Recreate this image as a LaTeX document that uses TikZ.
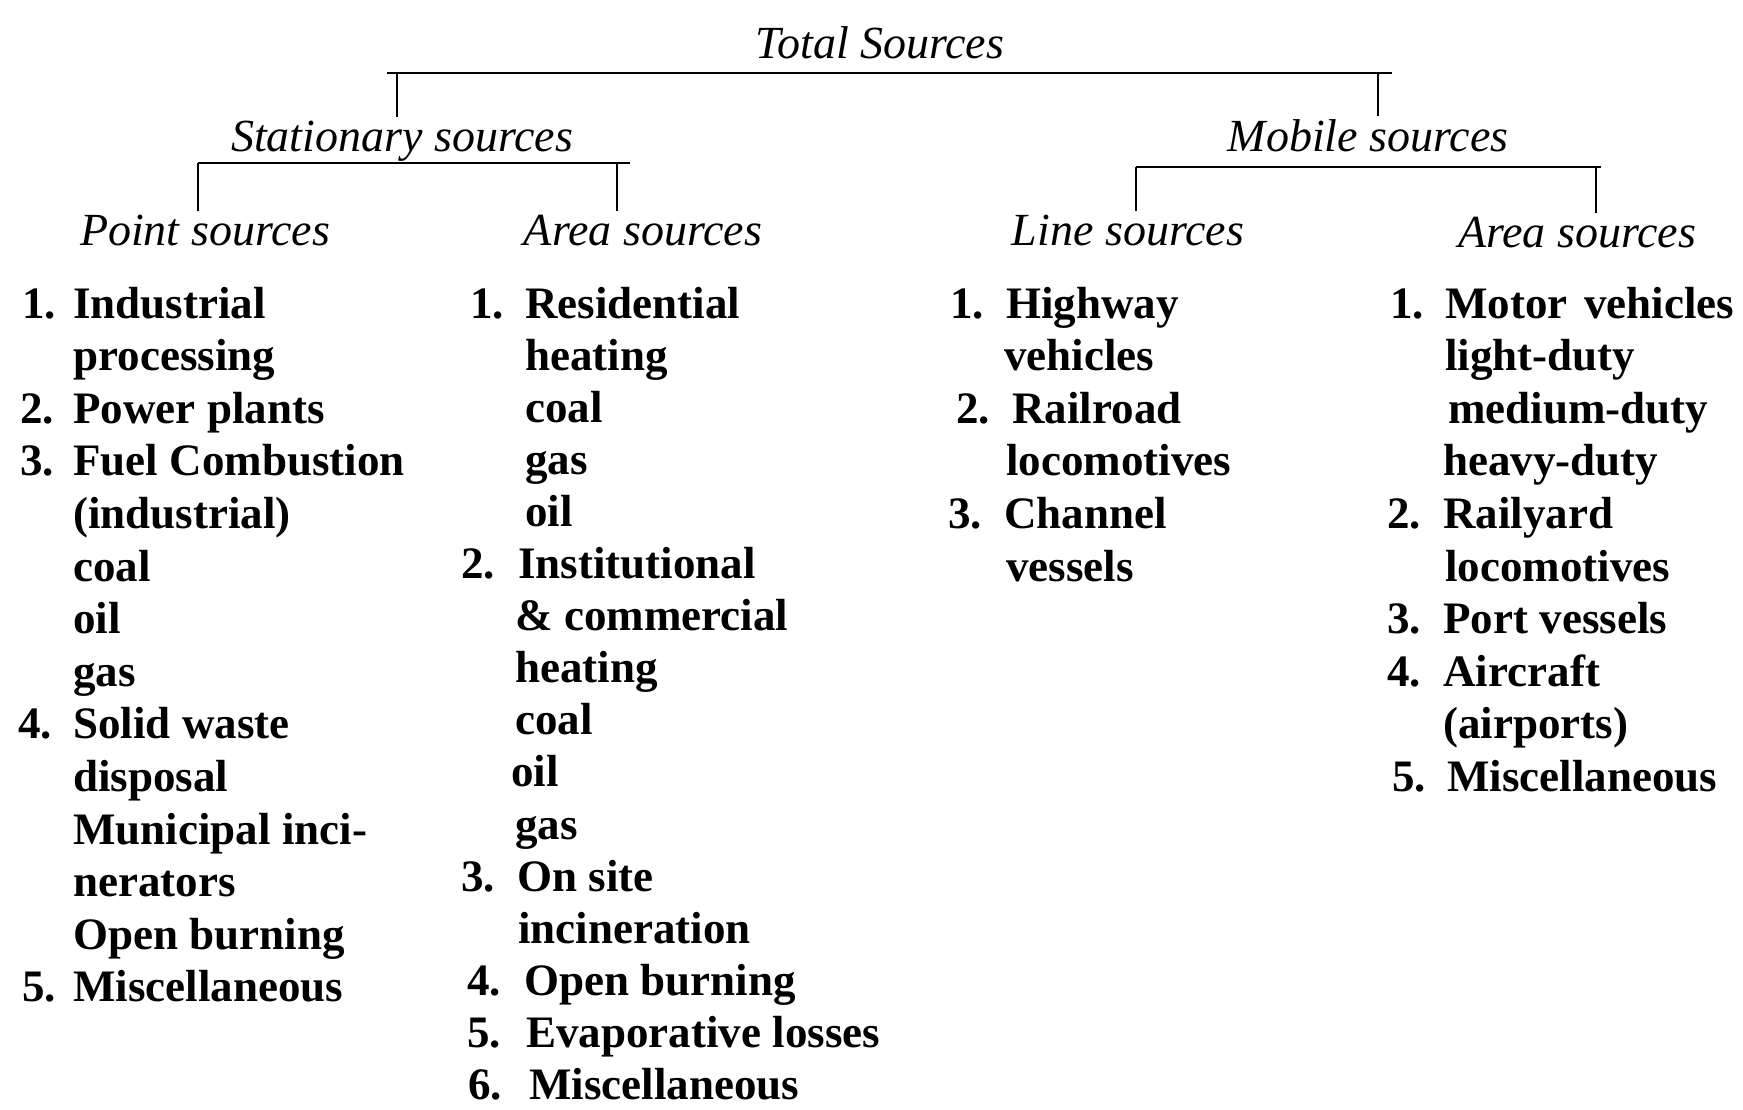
\documentclass[tikz,border=0pt]{standalone}
\usepackage{fontspec}
\setmainfont{Liberation Serif}
\newcommand\bodyfnt{\bfseries\fontsize{22.5}{27}\selectfont}
\newcommand\headfnt{\itshape\fontsize{23}{28}\selectfont}
\begin{document}
\begin{tikzpicture}[x=0.5pt,y=-0.5pt,
  item/.style={anchor=base west,inner sep=0pt,font=\bodyfnt},
  head/.style={anchor=base,inner sep=1.5pt,font=\headfnt},
  bar/.style={line width=1.1pt}]
\useasboundingbox (0,0) rectangle (1743,1109);
\newcommand\row[1]{{318+52.6*#1}}
\newcommand\rowa[1]{{318+52.1*#1}}
% headings
\node[head] (tot) at (880,58) {Total Sources};
\node[head] (st) at (402,151) {Stationary sources};
\node[head] (mo) at (1368,151) {Mobile sources};
\node[head] (ps) at (205,245) {Point sources};
\node[head] (as) at (643,245) {Area sources};
\node[head] (ls) at (1128,245) {Line sources};
\node[head] (am) at (1577,247) {Area sources};
% tree lines
\coordinate (tl) at (387,73); \coordinate (tr) at (1392,73);
\coordinate (tst) at (397,73); \coordinate (tmo) at (1378,73);
\draw[bar] (tl) -- (tr);
\draw[bar] (tst) -- (tst |- st.north);
\draw[bar] (tmo) -- (tmo |- mo.north);
\coordinate (sl) at (198,163); \coordinate (sr) at (630,163);
\coordinate (sps) at (198,163); \coordinate (sas) at (617,163);
\draw[bar] (sl) -- (sr);
\draw[bar] (sps) -- (sps |- ps.north);
\draw[bar] (sas) -- (sas |- as.north);
\coordinate (ml) at (1136,167); \coordinate (mr) at (1601,167);
\coordinate (mls) at (1136,167); \coordinate (mam) at (1596,167);
\draw[bar] (ml) -- (mr);
\draw[bar] (mls) -- (mls |- ls.north);
\draw[bar] (mam) -- (mam |- am.north);
% Point sources list
\node[item] (pn1) at (22,\row{0}) {1.};
\node[item] (p0) at (73,\row{0}) {Industrial};
\node[item] (p1) at (73,\row{1}) {processing};
\node[item] (pn2) at (20,\row{2}) {2.};
\node[item] (p2) at (73,\row{2}) {Power plants};
\node[item] (pn3) at (20,\row{3}) {3.};
\node[item] (p3) at (73,\row{3}) {Fuel Combustion};
\node[item] (p4) at (73,\row{4}) {(industrial)};
\node[item] (p5) at (73,\row{5}) {coal};
\node[item] (p6) at (73,\row{6}) {oil};
\node[item] (p7) at (73,\row{7}) {gas};
\node[item] (pn4) at (18,\row{8}) {4.};
\node[item] (p8) at (73,\row{8}) {Solid waste};
\node[item] (p9) at (73,\row{9}) {disposal};
\node[item] (p10) at (73,\row{10}) {Municipal inci-};
\node[item] (p11) at (73,\row{11}) {nerators};
\node[item] (p12) at (73,\row{12}) {Open burning};
\node[item] (pn5) at (22,\row{13}) {5.};
\node[item] (p13) at (73,\row{13}) {Miscellaneous};
% Stationary area sources list
\node[item] (an1) at (470,\rowa{0}) {1.};
\node[item] (a0) at (525,\rowa{0}) {Residential};
\node[item] (a1) at (525,\rowa{1}) {heating};
\node[item] (a2) at (525,\rowa{2}) {coal};
\node[item] (a3) at (525,\rowa{3}) {gas};
\node[item] (a4) at (525,\rowa{4}) {oil};
\node[item] (an2) at (461,\rowa{5}) {2.};
\node[item] (a5) at (518,\rowa{5}) {Institutional};
\node[item] (a6) at (515,\rowa{6}) {\& commercial};
\node[item] (a7) at (515,\rowa{7}) {heating};
\node[item] (a8) at (515,\rowa{8}) {coal};
\node[item] (a9) at (511,\rowa{9}) {oil};
\node[item] (a10) at (515,\rowa{10}) {gas};
\node[item] (an3) at (461,\rowa{11}) {3.};
\node[item] (a11) at (517,\rowa{11}) {On site};
\node[item] (a12) at (518,\rowa{12}) {incineration};
\node[item] (an4) at (467,\rowa{13}) {4.};
\node[item] (a13) at (524,\rowa{13}) {Open burning};
\node[item] (an5) at (467,\rowa{14}) {5.};
\node[item] (a14) at (526,\rowa{14}) {Evaporative losses};
\node[item] (an6) at (468,\rowa{15}) {6.};
\node[item] (a15) at (529,\rowa{15}) {Miscellaneous};
% Line sources list
\node[item] (ln1) at (950,\row{0}) {1.};
\node[item] (l0) at (1006,\row{0}) {Highway};
\node[item] (l1) at (1004,\row{1}) {vehicles};
\node[item] (ln2) at (956,\row{2}) {2.};
\node[item] (l2) at (1012,\row{2}) {Railroad};
\node[item] (l3) at (1006,\row{3}) {locomotives};
\node[item] (ln3) at (948,\row{4}) {3.};
\node[item] (l4) at (1004,\row{4}) {Channel};
\node[item] (l5) at (1006,\row{5}) {vessels};
% Mobile area sources list
\node[item] (mn1) at (1390,\row{0}) {1.};
\node[item] (m0) at (1445,\row{0}) {Motor\hspace{0.12em} vehicles};
\node[item] (m1) at (1445,\row{1}) {light-duty};
\node[item] (m2) at (1448,\row{2}) {medium-duty};
\node[item] (m3) at (1443,\row{3}) {heavy-duty};
\node[item] (mn2) at (1387,\row{4}) {2.};
\node[item] (m4) at (1443,\row{4}) {Railyard};
\node[item] (m5) at (1445,\row{5}) {locomotives};
\node[item] (mn3) at (1387,\row{6}) {3.};
\node[item] (m6) at (1443,\row{6}) {Port vessels};
\node[item] (mn4) at (1387,\row{7}) {4.};
\node[item] (m7) at (1443,\row{7}) {Aircraft};
\node[item] (m8) at (1443,\row{8}) {(airports)};
\node[item] (mn5) at (1392,\row{9}) {5.};
\node[item] (m9) at (1447,\row{9}) {Miscellaneous};
\end{tikzpicture}
\end{document}
